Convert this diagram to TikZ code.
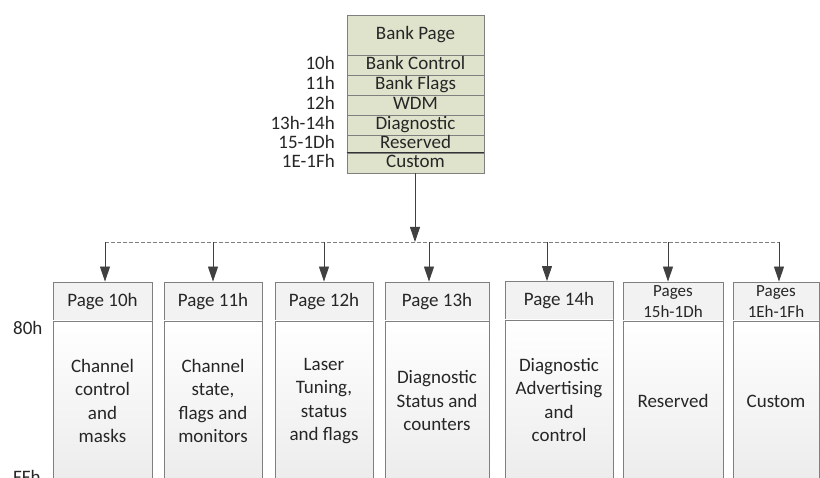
\documentclass[tikz,border=0pt]{standalone}
\usepackage{fontspec}
\setmainfont{Carlito}
\usetikzlibrary{arrows.meta,calc}
\definecolor{bankfill}{HTML}{DFE3CB}
\definecolor{edge}{HTML}{7F7F7F}
\definecolor{txt}{HTML}{262626}
\definecolor{hdrfill}{HTML}{F2F2F2}
\definecolor{bodybot}{HTML}{ECECEC}
\definecolor{arr}{HTML}{404040}
\tikzset{
  every node/.style={text=txt},
  bigfont/.style={font=\fontsize{19}{23.5}\selectfont},
  smallfont/.style={font=\fontsize{17}{21}\selectfont},
  bankrow/.style={draw=edge, fill=bankfill, line width=0.9pt, minimum width=137pt, minimum height=20pt, inner sep=0pt, bigfont, text height=13pt, text depth=4pt},
  banklabel/.style={anchor=east, inner sep=0pt, bigfont, text height=13pt, text depth=4pt},
  pghdr/.style={draw=edge, fill=hdrfill, line width=0.9pt, minimum height=39pt, inner sep=0pt, bigfont, align=center},
  pgbody/.style={draw=edge, top color=white, bottom color=bodybot, line width=0.9pt, inner sep=0pt, bigfont, align=center},
  conn/.style={draw=arr, line width=0.9pt, -{Triangle[length=15pt,width=10pt]}},
  dashconn/.style={draw=edge, line width=0.9pt, dashed, dash pattern=on 4pt off 2pt},
}
\begin{document}
\begin{tikzpicture}[x=1pt,y=-1pt]
\useasboundingbox (0,0) rectangle (820,478);
\clip (0,0) rectangle (820,478);
% Bank page
\node[bankrow, minimum height=40pt] (bank) at (415.5,35) {Bank Page};
\node[bankrow] (r1) at (415.5,65) {Bank Control};
\node[bankrow] (r2) at (415.5,85) {Bank Flags};
\node[bankrow] (r3) at (415.5,105) {WDM};
\node[bankrow] (r4) at (415.5,125) {Diagnostic};
\node[bankrow, minimum height=18pt] (r5) at (415.5,144) {Reserved};
\node[bankrow] (r6) at (415.5,163) {Custom};
\draw[line width=1.4pt, black!80] (r6.north west) -- (r6.north east);
\node[banklabel] (l1) at (335,65) {10h};
\node[banklabel] (l2) at (335,85) {11h};
\node[banklabel] (l3) at (335,105) {12h};
\node[banklabel] (l4) at (335,125) {13h-14h};
\node[banklabel] (l5) at (335,144) {15-1Dh};
\node[banklabel] (l6) at (335,163) {1E-1Fh};
% pages
\node[pghdr, minimum width=99pt] (h1) at (102.5,301.5) {Page 10h};
\node[pghdr, minimum width=98pt] (h2) at (213,301.5) {Page 11h};
\node[pghdr, minimum width=98pt] (h3) at (324,301.5) {Page 12h};
\node[pghdr, minimum width=104pt] (h4) at (437,301.5) {Page 13h};
\node[pghdr, minimum width=108pt] (h5) at (559,301) {Page 14h};
\node[pghdr, minimum width=100pt, smallfont] (h6) at (673,301.5) {Pages\\15h-1Dh};
\node[pghdr, minimum width=86pt, smallfont] (h7) at (776,301.5) {Pages\\1Eh-1Fh};
\node[pgbody, minimum width=99pt, minimum height=160pt] (b1) at (102.5,401) {Channel\\control\\and\\masks};
\node[pgbody, minimum width=98pt, minimum height=160pt] (b2) at (213,401) {Channel\\state,\\flags and\\monitors};
\node[pgbody, minimum width=98pt, minimum height=160pt] (b3) at (324,401) {Laser\\Tuning,\\status\\and flags};
\node[pgbody, minimum width=104pt, minimum height=160pt] (b4) at (437,401) {Diagnostic\\Status and\\counters};
\node[pgbody, minimum width=108pt, minimum height=160pt] (b5) at (559,400) {Diagnostic\\Advertising\\and\\control};
\node[pgbody, minimum width=100pt, minimum height=160pt] (b6) at (673,401) {Reserved};
\node[pgbody, minimum width=86pt, minimum height=160pt] (b7) at (776,401) {Custom};
\node[anchor=west, inner sep=0pt, bigfont, text height=13pt, text depth=4pt] (a80) at (13,330) {80h};
\node[anchor=west, inner sep=0pt, bigfont, text height=13pt, text depth=4pt] (aff) at (13,478.5) {FFh};
% connectors
\coordinate (bus) at (415,242);
\coordinate (c1) at (105,242);
\coordinate (c2) at (213,242);
\coordinate (c3) at (324,242);
\coordinate (c4) at (429,242);
\coordinate (c5) at (547,242);
\coordinate (c6) at (668,242);
\coordinate (c7) at (779,242);
\draw[dashconn] (c1) -- (c7);
\draw[conn] (r6.south -| bus) -- (bus);
\foreach \i in {1,...,7} {
  \draw[conn] (c\i) -- (c\i |- h\i.north);
}
\end{tikzpicture}
\end{document}
